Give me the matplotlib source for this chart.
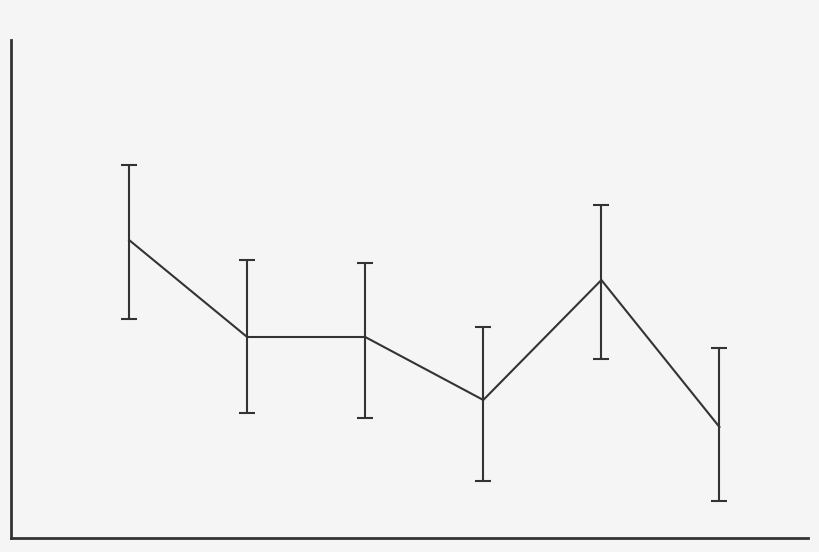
import numpy as np
import matplotlib
matplotlib.use("Agg")
import matplotlib.pyplot as plt

# values (arbitrary units)
groups = [1, 2, 3, 4, 5, 6]
means = [29.8, 20.1, 20.1, 13.8, 25.8, 11.1]
err_up = [7.5, 7.7, 7.4, 7.3, 7.5, 7.9]
err_down = [7.9, 7.6, 8.1, 8.1, 7.9, 7.4]

bg = "#f5f5f5"
ink = "#333333"

fig = plt.figure(figsize=(8.2, 5.52), dpi=100, facecolor=bg)
ax = fig.add_axes([11 / 820, 14 / 552, 797 / 820, 498 / 552])
ax.set_facecolor(bg)

ax.errorbar(groups, means, yerr=[err_down, err_up], color=ink, lw=1.5,
            elinewidth=1.5, capsize=5.5, capthick=1.5)

ax.set_xlim(0, 6.75)
ax.set_ylim(0, 49.8)
ax.set_xticks([])
ax.set_yticks([])
for s in ["top", "right"]:
    ax.spines[s].set_visible(False)
for s in ["left", "bottom"]:
    ax.spines[s].set_color(ink)
    ax.spines[s].set_linewidth(2)

fig.savefig("out.png", dpi=100, facecolor=bg)
